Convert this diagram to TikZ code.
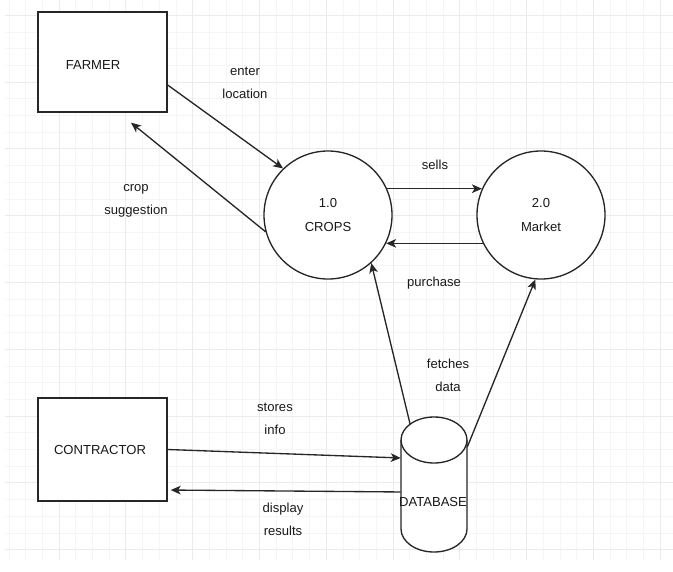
\documentclass[tikz,border=0pt]{standalone}
\usepackage{fontspec}
\setmainfont{Liberation Sans}
\usetikzlibrary{arrows.meta}
\begin{document}
\begin{tikzpicture}[x=0.75pt,y=-0.75pt,
  lbl/.style={font=\fontsize{9.8pt}{17.5pt}\selectfont, text=black!90, align=center, inner sep=0pt},
  ent/.style={draw=black!85, line width=1pt, fill=white, minimum width=96.75pt, inner sep=0pt},
  proc/.style={circle, draw=black!85, line width=1pt, fill=white, minimum size=96pt, inner sep=0pt, lbl},
  flow/.style={draw=black!85, line width=1pt, -{Stealth[length=7.5pt,width=6.5pt,inset=2pt]}},
  gminor/.style={draw=black!4, line width=0.5pt},
  gmajor/.style={draw=black!8, line width=0.6pt},
]
\useasboundingbox (0,0) rectangle (673,571);
% faint background grid
\begin{scope}
\clip (5,0) rectangle (673,560);
\foreach \k in {0,...,35} {\draw[gminor] (5,{-1.5+16.7*\k}) -- (673,{-1.5+16.7*\k});}
\foreach \k in {0,...,40} {\draw[gminor] ({8.9+16.7*\k},0) -- ({8.9+16.7*\k},560);}
\foreach \k in {0,...,9} {\draw[gmajor] (5,{15.2+66.8*\k}) -- (673,{15.2+66.8*\k});}
\foreach \k in {-1,...,10} {\draw[gmajor] ({59+66.8*\k},0) -- ({59+66.8*\k},560);}
\end{scope}

% external entities
\node[ent, minimum height=75pt] (farmer) at (102.5,62) {};
\node[lbl] (farmertxt) at (93,65) {FARMER};
\node[ent, minimum height=77.25pt] (contractor) at (102.5,449.5) {};
\node[lbl] (contractortxt) at (100,450) {CONTRACTOR};

% processes
\node[proc] (crops) at (328,215) {1.0\\CROPS};
\node[proc] (market) at (541,215) {2.0\\Market};

% data store (cylinder)
\node[minimum width=49.5pt, minimum height=101.25pt, inner sep=0pt] (db) at (434,484.5) {};
\fill[white] (401,440) -- (401,529) .. controls (401,541.7) and (415.8,552) .. (434,552)
  .. controls (452.2,552) and (467,541.7) .. (467,529) -- (467,440) -- cycle;
\draw[draw=black!85, line width=1pt] (401,440) -- (401,529) .. controls (401,541.7) and (415.8,552) .. (434,552)
  .. controls (452.2,552) and (467,541.7) .. (467,529) -- (467,440);
\draw[draw=black!85, line width=1pt, fill=white] (434,440) ellipse [x radius=24.75pt, y radius=17.25pt];
\node[lbl] (dbtxt) at (433,502) {DATABASE};

% flows
\draw[flow] ([yshift=-17.25pt]farmer.east) -- (crops.134);
\draw[flow] (crops.195) -- ([xshift=21.4pt,yshift=-7.5pt]farmer.south);
\draw[flow] (crops.24) -- (market.156);
\draw[flow] (market.206) -- (crops.-26);
\draw[flow] ([xshift=-18pt,yshift=-5.25pt]db.north) -- (crops.-48);
\draw[flow] ([yshift=28.1pt]db.east) -- (market.265);
\draw[flow] (contractor.east) -- ([yshift=19.9pt]db.west);
\draw[flow] ([yshift=-5.6pt]db.west) -- ([xshift=2.25pt,yshift=-30.4pt]contractor.east);

% flow labels
\node[lbl] (l1) at (245,83) {enter\\location};
\node[lbl] (l2) at (136,201) {crop\\suggestion};
\node[lbl] (l3) at (435,165) {sells};
\node[lbl] (l4) at (434,283) {purchase};
\node[lbl] (l5) at (448,375) {fetches\\data};
\node[lbl] (l6) at (275,419) {stores\\info};
\node[lbl] (l7) at (283,519) {display\\results};
\end{tikzpicture}
\end{document}
